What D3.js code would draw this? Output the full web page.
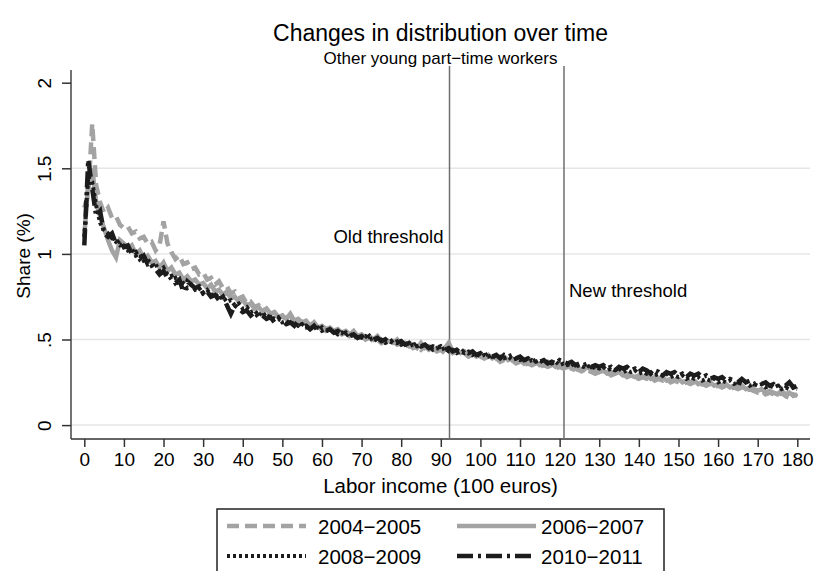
<!DOCTYPE html>
<html>
<head>
<meta charset="utf-8">
<script src="https://cdn.jsdelivr.net/npm/d3@7"></script>
<style>
  body { margin: 0; background: #fff; }
  svg { font-family: "Liberation Sans", Arial, sans-serif; }
</style>
</head>
<body>
<div id="chart"></div>
<script>
// x runs 0..180 in steps of 1 (100 euros)
const INCOME = d3.range(0, 181);

const SHARE_0405 = [
  1.27, 1.35, 1.76, 1.40, 1.30, 1.24, 1.27, 1.21, 1.22, 1.17, 1.15, 1.16, 1.12, 1.13, 1.09, 1.10, 1.06, 1.07, 1.02, 1.05,
  1.19, 1.06, 1.01, 0.97, 0.99, 0.94, 0.95, 0.91, 0.92, 0.88, 0.89, 0.85, 0.86, 0.82, 0.84, 0.80, 0.81, 0.77, 0.78, 0.74,
  0.75, 0.71, 0.72, 0.69, 0.70, 0.67, 0.68, 0.65, 0.66, 0.63, 0.64, 0.61, 0.62, 0.60, 0.61, 0.59, 0.60, 0.57, 0.58, 0.56,
  0.57, 0.55, 0.56, 0.54, 0.55, 0.53, 0.54, 0.52, 0.53, 0.51, 0.52, 0.50, 0.51, 0.49, 0.50, 0.48, 0.50, 0.47, 0.49, 0.47,
  0.48, 0.46, 0.47, 0.45, 0.46, 0.44, 0.46, 0.44, 0.45, 0.43, 0.44, 0.42, 0.44, 0.42, 0.43, 0.41, 0.42, 0.40, 0.41, 0.39,
  0.40, 0.39, 0.40, 0.38, 0.39, 0.37, 0.38, 0.37, 0.38, 0.36, 0.37, 0.35, 0.36, 0.35, 0.36, 0.34, 0.35, 0.34, 0.35, 0.33,
  0.34, 0.33, 0.34, 0.32, 0.33, 0.32, 0.31, 0.32, 0.31, 0.30, 0.31, 0.30, 0.31, 0.29, 0.30, 0.29, 0.30, 0.28, 0.29, 0.28,
  0.27, 0.28, 0.27, 0.28, 0.26, 0.27, 0.26, 0.27, 0.25, 0.26, 0.25, 0.24, 0.25, 0.24, 0.25, 0.23, 0.24, 0.23, 0.24, 0.22,
  0.23, 0.22, 0.23, 0.21, 0.22, 0.21, 0.22, 0.20, 0.21, 0.20, 0.19, 0.20, 0.18, 0.19, 0.18, 0.17, 0.19, 0.17, 0.16, 0.18,
  0.17
];

const SHARE_0607 = [
  1.10, 1.42, 1.50, 1.30, 1.22, 1.15, 1.08, 1.02, 0.98, 1.08, 1.06, 1.03, 1.05, 1.00, 1.02, 0.97, 0.99, 0.95, 0.96, 0.92,
  0.95, 0.90, 0.92, 0.88, 0.89, 0.85, 0.87, 0.84, 0.85, 0.82, 0.83, 0.80, 0.82, 0.78, 0.79, 0.76, 0.78, 0.74, 0.75, 0.72,
  0.73, 0.70, 0.71, 0.68, 0.69, 0.66, 0.68, 0.65, 0.66, 0.63, 0.64, 0.62, 0.65, 0.61, 0.62, 0.60, 0.61, 0.58, 0.60, 0.57,
  0.58, 0.56, 0.57, 0.55, 0.56, 0.54, 0.55, 0.53, 0.55, 0.52, 0.53, 0.51, 0.52, 0.50, 0.52, 0.49, 0.50, 0.49, 0.48, 0.50,
  0.47, 0.48, 0.46, 0.47, 0.45, 0.48, 0.45, 0.46, 0.44, 0.45, 0.44, 0.45, 0.48, 0.43, 0.44, 0.42, 0.43, 0.41, 0.42, 0.40,
  0.41, 0.39, 0.41, 0.39, 0.40, 0.38, 0.40, 0.38, 0.39, 0.37, 0.38, 0.36, 0.38, 0.36, 0.37, 0.35, 0.36, 0.35, 0.36, 0.34,
  0.35, 0.34, 0.35, 0.33, 0.34, 0.33, 0.32, 0.34, 0.32, 0.33, 0.31, 0.32, 0.30, 0.31, 0.30, 0.31, 0.29, 0.30, 0.29, 0.28,
  0.29, 0.28, 0.29, 0.27, 0.28, 0.27, 0.28, 0.26, 0.27, 0.26, 0.27, 0.25, 0.26, 0.25, 0.26, 0.24, 0.25, 0.24, 0.25, 0.23,
  0.24, 0.23, 0.24, 0.22, 0.23, 0.22, 0.23, 0.21, 0.22, 0.21, 0.20, 0.21, 0.19, 0.20, 0.19, 0.18, 0.20, 0.18, 0.19, 0.17,
  0.18
];

const SHARE_0809 = [
  1.10, 1.45, 1.42, 1.28, 1.18, 1.14, 1.12, 1.09, 1.07, 1.05, 1.06, 1.02, 1.03, 0.99, 1.00, 0.96, 0.97, 0.93, 0.94, 0.90,
  0.92, 0.88, 0.85, 0.86, 0.82, 0.83, 0.80, 0.82, 0.79, 0.80, 0.77, 0.79, 0.76, 0.77, 0.74, 0.75, 0.72, 0.73, 0.70, 0.71,
  0.68, 0.69, 0.66, 0.67, 0.64, 0.66, 0.63, 0.64, 0.62, 0.63, 0.60, 0.61, 0.59, 0.60, 0.58, 0.59, 0.57, 0.58, 0.56, 0.57,
  0.55, 0.56, 0.54, 0.55, 0.53, 0.54, 0.52, 0.54, 0.51, 0.52, 0.51, 0.52, 0.50, 0.51, 0.49, 0.50, 0.48, 0.49, 0.48, 0.49,
  0.47, 0.48, 0.46, 0.47, 0.46, 0.47, 0.45, 0.46, 0.44, 0.45, 0.44, 0.45, 0.43, 0.44, 0.42, 0.43, 0.42, 0.43, 0.41, 0.42,
  0.40, 0.41, 0.40, 0.41, 0.39, 0.40, 0.39, 0.40, 0.38, 0.39, 0.38, 0.39, 0.37, 0.38, 0.37, 0.38, 0.36, 0.37, 0.36, 0.37,
  0.35, 0.36, 0.35, 0.36, 0.34, 0.35, 0.34, 0.35, 0.33, 0.34, 0.33, 0.34, 0.32, 0.33, 0.32, 0.33, 0.31, 0.32, 0.31, 0.32,
  0.30, 0.31, 0.30, 0.31, 0.29, 0.30, 0.29, 0.30, 0.28, 0.29, 0.28, 0.29, 0.27, 0.28, 0.27, 0.28, 0.26, 0.27, 0.26, 0.27,
  0.25, 0.26, 0.25, 0.26, 0.24, 0.25, 0.24, 0.25, 0.23, 0.24, 0.23, 0.24, 0.22, 0.23, 0.22, 0.23, 0.21, 0.22, 0.21, 0.22,
  0.21
];

const SHARE_1011 = [
  1.05, 1.55, 1.38, 1.22, 1.25, 1.12, 1.10, 1.12, 1.06, 1.08, 1.04, 1.05, 1.00, 1.01, 0.97, 0.99, 0.94, 0.95, 0.91, 0.88,
  0.90, 0.86, 0.87, 0.83, 0.85, 0.78, 0.84, 0.82, 0.80, 0.81, 0.77, 0.78, 0.75, 0.76, 0.73, 0.75, 0.70, 0.65, 0.70, 0.68,
  0.66, 0.67, 0.64, 0.66, 0.63, 0.64, 0.62, 0.63, 0.60, 0.62, 0.61, 0.59, 0.60, 0.58, 0.61, 0.57, 0.58, 0.56, 0.58, 0.55,
  0.57, 0.55, 0.56, 0.54, 0.55, 0.53, 0.54, 0.52, 0.53, 0.51, 0.52, 0.50, 0.52, 0.50, 0.51, 0.49, 0.50, 0.48, 0.50, 0.48,
  0.49, 0.47, 0.48, 0.46, 0.48, 0.46, 0.47, 0.45, 0.46, 0.45, 0.46, 0.44, 0.45, 0.43, 0.44, 0.42, 0.44, 0.42, 0.43, 0.41,
  0.42, 0.40, 0.42, 0.40, 0.41, 0.39, 0.41, 0.40, 0.41, 0.39, 0.40, 0.38, 0.39, 0.37, 0.38, 0.37, 0.38, 0.36, 0.37, 0.36,
  0.38, 0.37, 0.36, 0.37, 0.35, 0.36, 0.35, 0.36, 0.34, 0.35, 0.34, 0.35, 0.33, 0.34, 0.32, 0.34, 0.33, 0.34, 0.32, 0.33,
  0.31, 0.33, 0.32, 0.30, 0.32, 0.31, 0.29, 0.31, 0.30, 0.31, 0.29, 0.30, 0.28, 0.30, 0.29, 0.30, 0.28, 0.29, 0.27, 0.28,
  0.27, 0.28, 0.26, 0.27, 0.26, 0.25, 0.27, 0.25, 0.26, 0.24, 0.25, 0.24, 0.25, 0.23, 0.24, 0.22, 0.24, 0.23, 0.25, 0.22,
  0.23
];

const SERIES_LABELS = ["2004\u22122005", "2006\u22122007", "2008\u22122009", "2010\u22122011"];
const X_TICKS = d3.range(0, 181, 10);
const Y_TICKS = [0, 0.5, 1, 1.5, 2];
const Y_TICK_LABELS = ["0", ".5", "1", "1.5", "2"];
const THRESHOLDS = [
  { value: 92.2, label: "Old threshold" },
  { value: 121.1, label: "New threshold" },
];

const WIDTH = 817;
const HEIGHT = 571;
const PLOT = { left: 71, right: 810, top: 66, bottom: 439 };

const STYLES = [
  { color: "#a3a3a3", width: 4.5, dash: "12,6", cap: "butt" },
  { color: "#a3a3a3", width: 4.5, dash: null, cap: "butt" },
  { color: "#1c1c1c", width: 4, dash: "3,3", cap: "butt" },
  { color: "#1c1c1c", width: 4.5, dash: "16,5,3,5", cap: "butt" },
];

const xScale = d3.scaleLinear().domain([0, 180]).range([84.3, 797.3]);
const yScale = d3.scaleLinear().domain([0, 2]).range([425.1, 82.7]);

const svg = d3.select("#chart")
  .append("svg")
  .attr("width", WIDTH)
  .attr("height", HEIGHT);

// titles
svg.append("text")
  .attr("x", (PLOT.left + PLOT.right) / 2)
  .attr("y", 41)
  .attr("text-anchor", "middle")
  .style("font-size", "23px")
  .text("Changes in distribution over time");

svg.append("text")
  .attr("x", (PLOT.left + PLOT.right) / 2)
  .attr("y", 64)
  .attr("text-anchor", "middle")
  .style("font-size", "17px")
  .text("Other young part\u2212time workers");

// gridlines
svg.append("g")
  .selectAll("line")
  .data(Y_TICKS.slice(0, 4))
  .join("line")
  .attr("x1", PLOT.left)
  .attr("x2", PLOT.right)
  .attr("y1", d => yScale(d))
  .attr("y2", d => yScale(d))
  .attr("stroke", "#e6e6e6")
  .attr("stroke-width", 1.5);

// y axis
const yAxis = svg.append("g")
  .attr("transform", `translate(${PLOT.left},0)`)
  .call(d3.axisLeft(yScale).tickValues(Y_TICKS).tickSize(9).tickPadding(10)
    .tickFormat((d, i) => Y_TICK_LABELS[i]));
yAxis.select(".domain").attr("d", `M0,${PLOT.top + 4}V${PLOT.bottom}`).attr("stroke", "#444").attr("stroke-width", 1.5);
yAxis.selectAll(".tick line").attr("stroke", "#333").attr("stroke-width", 1.5);
yAxis.selectAll(".tick text")
  .attr("x", null).attr("dy", null)
  .attr("text-anchor", "middle")
  .attr("transform", "translate(-20,0) rotate(-90)")
  .style("font-size", "19px")
  .attr("fill", "#000");

// x axis
const xAxis = svg.append("g")
  .attr("transform", `translate(0,${PLOT.bottom})`)
  .call(d3.axisBottom(xScale).tickValues(X_TICKS).tickSize(8).tickPadding(6).tickFormat(d3.format("d")));
xAxis.select(".domain").attr("d", `M${PLOT.left},0H${PLOT.right}`).attr("stroke", "#333").attr("stroke-width", 1.5);
xAxis.selectAll(".tick line").attr("stroke", "#333").attr("stroke-width", 1.5);
xAxis.selectAll(".tick text").style("font-size", "19px").attr("fill", "#000");

// axis titles
svg.append("text")
  .attr("transform", `translate(30,${(yScale(0) + yScale(2)) / 2 + 2}) rotate(-90)`)
  .attr("text-anchor", "middle")
  .style("font-size", "19px")
  .text("Share (%)");

svg.append("text")
  .attr("x", (PLOT.left + PLOT.right) / 2)
  .attr("y", 493)
  .attr("text-anchor", "middle")
  .style("font-size", "20.5px")
  .text("Labor income (100 euros)");

// threshold lines
const thr = svg.append("g");
thr.selectAll("line")
  .data(THRESHOLDS)
  .join("line")
  .attr("x1", d => xScale(d.value))
  .attr("x2", d => xScale(d.value))
  .attr("y1", PLOT.top)
  .attr("y2", PLOT.bottom)
  .attr("stroke", "#6e6e6e")
  .attr("stroke-width", 1.5);

thr.append("text")
  .attr("x", xScale(THRESHOLDS[0].value) - 6)
  .attr("y", 243)
  .attr("text-anchor", "end")
  .style("font-size", "18.5px")
  .text(THRESHOLDS[0].label);

thr.append("text")
  .attr("x", xScale(THRESHOLDS[1].value) + 5)
  .attr("y", 297)
  .attr("text-anchor", "start")
  .style("font-size", "18.5px")
  .text(THRESHOLDS[1].label);

// series
const allSeries = [SHARE_0405, SHARE_0607, SHARE_0809, SHARE_1011];
const line = d3.line()
  .x((d, i) => xScale(INCOME[i]))
  .y(d => yScale(d));

svg.append("g")
  .selectAll("path")
  .data(allSeries)
  .join("path")
  .attr("d", d => line(d))
  .attr("fill", "none")
  .attr("stroke", (d, i) => STYLES[i].color)
  .attr("stroke-width", (d, i) => STYLES[i].width)
  .attr("stroke-dasharray", (d, i) => STYLES[i].dash)
  .attr("stroke-linejoin", "miter")
  .attr("stroke-miterlimit", 3)
  .attr("stroke-linecap", (d, i) => STYLES[i].cap);

// legend
const legend = svg.append("g");
legend.append("rect")
  .attr("x", 217)
  .attr("y", 509)
  .attr("width", 447)
  .attr("height", 80)
  .attr("fill", "#fff")
  .attr("stroke", "#222")
  .attr("stroke-width", 1.5);

const legendItems = legend.selectAll("g.item")
  .data(SERIES_LABELS)
  .join("g")
  .attr("class", "item")
  .attr("transform", (d, i) => `translate(${i % 2 === 0 ? 227 : 457},${i < 2 ? 526 : 556})`);

legendItems.append("line")
  .attr("x1", 0)
  .attr("x2", 79)
  .attr("stroke", (d, i) => STYLES[i].color)
  .attr("stroke-width", (d, i) => STYLES[i].width)
  .attr("stroke-dasharray", (d, i) => STYLES[i].dash);

legendItems.append("text")
  .attr("x", (d, i) => i % 2 === 0 ? 91 : 84)
  .attr("y", 7.5)
  .style("font-size", "20.5px")
  .text(d => d);
</script>
</body>
</html>
